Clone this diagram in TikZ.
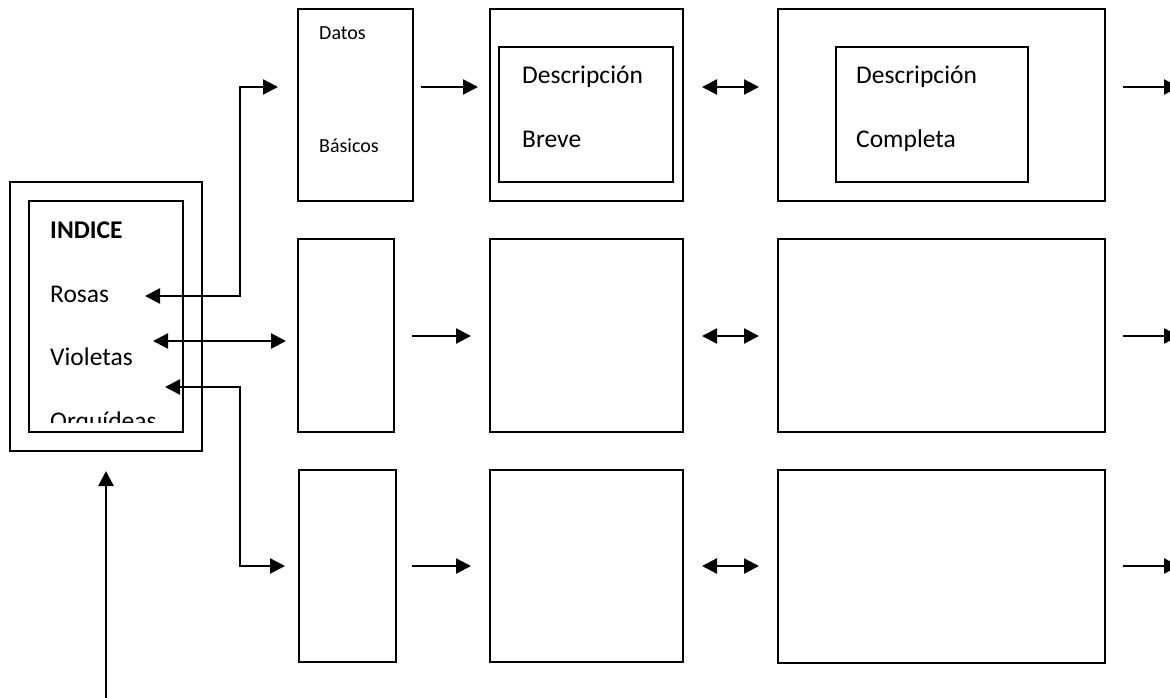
\documentclass[tikz,border=0pt]{standalone}
\usepackage{fontspec}
\setmainfont{Carlito}
\usetikzlibrary{arrows.meta,calc}

\tikzset{
  box/.style={draw, line width=2pt, inner sep=0pt, outer sep=0pt, anchor=north west},
  conn/.style={line width=2.3pt, {Triangle[length=15pt,width=15pt]}-{Triangle[length=15pt,width=15pt]}},
  fwd/.style={line width=2.3pt, -{Triangle[length=15pt,width=15pt]}},
  big/.style={inner sep=0pt, anchor=base west, font=\fontsize{25.5}{28}\selectfont},
  small/.style={inner sep=0pt, anchor=base west, font=\fontsize{20}{24}\selectfont},
}

\begin{document}
\begin{tikzpicture}[x=1pt, y=-1pt]
\clip (0,0) rectangle (1170,698);
\fill[white] (0,0) rectangle (1170,698);

% index panel
\node[box, minimum width=192pt, minimum height=269pt] (idx) at (10,182) {};
\node[box, minimum width=154pt, minimum height=231pt, line width=1.8pt] (idxin) at (29,201) {};
\node[big, font=\fontsize{25.5}{28}\selectfont\bfseries] (tindice) at (50,238) {INDICE};
\node[big] (trosas) at (50,302) {Rosas};
\node[big] (tviol) at (50,365) {Violetas};
\begin{scope}
  \clip (29,201) rectangle (183,422);
  \node[big] (torq) at (50,429) {Orquídeas};
\end{scope}

% first row
\node[box, minimum width=115pt, minimum height=192pt] (r1c1) at (298,9) {};
\node[small] (tdatos) at (319,40) {Datos};
\node[small] (tbasic) at (319,153) {Básicos};
\node[box, minimum width=193pt, minimum height=192pt] (r1c2) at (490,9) {};
\node[box, minimum width=174pt, minimum height=135pt] (r1c2i) at (499,47) {};
\node[big] (tdesc1) at (522,84) {Descripción};
\node[big] (tbreve) at (522,148) {Breve};
\node[box, minimum width=327pt, minimum height=192pt] (r1c3) at (778,9) {};
\node[box, minimum width=192pt, minimum height=135pt] (r1c3i) at (836,47) {};
\node[big] (tdesc2) at (856,84) {Descripción};
\node[big] (tcompl) at (856,148) {Completa};

% second row
\node[box, minimum width=96pt, minimum height=193pt] (r2c1) at (298,239) {};
\node[box, minimum width=193pt, minimum height=193pt] (r2c2) at (490,239) {};
\node[box, minimum width=327pt, minimum height=193pt] (r2c3) at (778,239) {};

% third row
\node[box, minimum width=97pt, minimum height=192pt] (r3c1) at (299,470) {};
\node[box, minimum width=193pt, minimum height=192pt] (r3c2) at (490,470) {};
\node[box, minimum width=327pt, minimum height=193pt] (r3c3) at (778,470) {};

% arrows along the rows
\draw[fwd]  ($(r1c1.north east)+(8,78)$) -- ($(r1c2.north west)+(-12,78)$);
\draw[conn] ($(r1c2.north east)+(19,78)$) -- ($(r1c3.north west)+(-19,78)$);
\draw[fwd]  ($(r1c3.north east)+(18,78)$) -- ($(r1c3.north east)+(74,78)$);

\draw[fwd]  ($(r2c1.north east)+(18,97)$) -- ($(r2c2.north west)+(-19,97)$);
\draw[conn] ($(r2c2.north east)+(19,97)$) -- ($(r2c3.north west)+(-19,97)$);
\draw[fwd]  ($(r2c3.north east)+(18,97)$) -- ($(r2c3.north east)+(74,97)$);

\draw[fwd]  ($(r3c1.north east)+(16,96)$) -- ($(r3c2.north west)+(-19,96)$);
\draw[conn] ($(r3c2.north east)+(19,96)$) -- ($(r3c3.north west)+(-19,96)$);
\draw[fwd]  ($(r3c3.north east)+(18,96)$) -- ($(r3c3.north east)+(74,96)$);

% links from the index to the three rows
\coordinate (rosasEnd) at (145,296);
\coordinate (violEnd) at (153,341);
\coordinate (orqEnd) at (165,387);
\draw[conn] (rosasEnd) -- (240,296) |- ($(r1c1.north west)+(-20,78)$);
\draw[conn] (violEnd) -- ($(r2c1.north west)+(-12,102)$);
\draw[conn] (orqEnd) -- (240,387) |- ($(r3c1.north west)+(-14,96)$);

% entry arrow into the index
\coordinate (entry) at (106,698);
\draw[fwd] (entry) -- ($(idx.south west)+(96,20)$);
\end{tikzpicture}
\end{document}
